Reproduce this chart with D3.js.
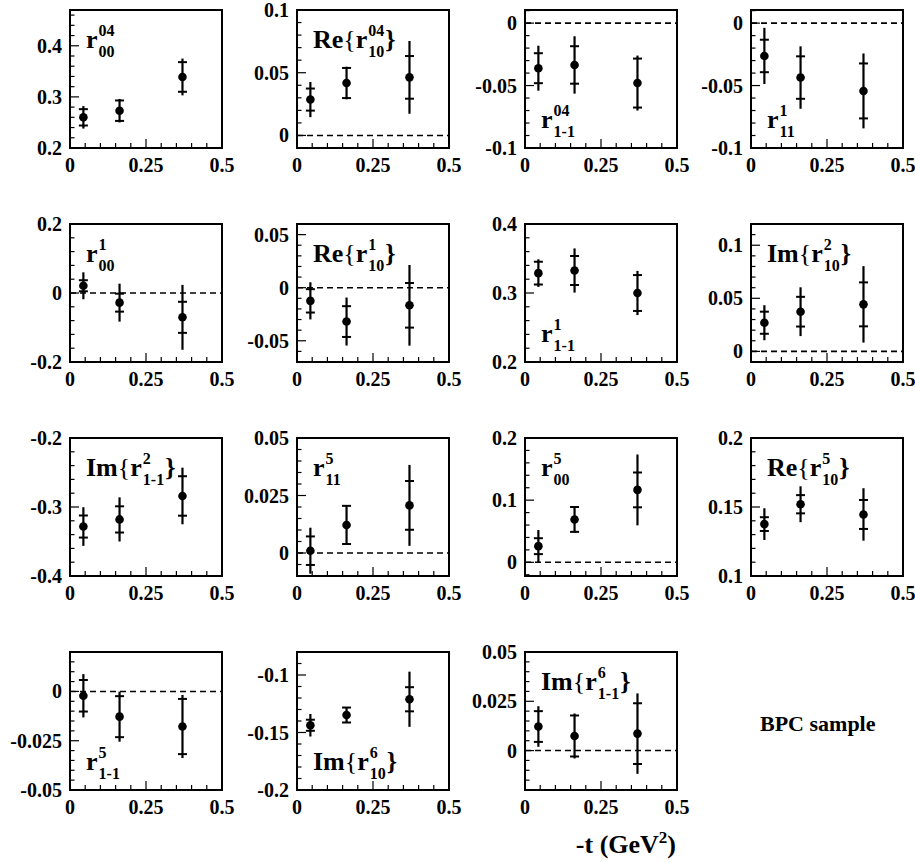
<!DOCTYPE html>
<html><head><meta charset="utf-8">
<script src="https://cdn.jsdelivr.net/npm/d3@7"></script>
<style>body{margin:0;background:#fff}svg text{font-family:"Liberation Serif","Times New Roman",serif;font-weight:bold}</style>
</head><body>
<script>
// -t values (GeV^2) of the three bins
const tValues = [0.044, 0.163, 0.37];
const xTicks = [0, 0.25, 0.5];
const xTickLabels = ["0", "0.25", "0.5"];

// values, statistical errors, total errors per matrix element
const r04_00 = [0.260, 0.273, 0.339], r04_00_stat = [0.016, 0.020, 0.029], r04_00_tot = [0.022, 0.023, 0.036];
const re_r04_10 = [0.0286, 0.0418, 0.0463], re_r04_10_stat = [0.0088, 0.012, 0.017], re_r04_10_tot = [0.014, 0.013, 0.029];
const r04_1m1 = [-0.0361, -0.0335, -0.048], r04_1m1_stat = [0.012, 0.015, 0.0196], r04_1m1_tot = [0.018, 0.023, 0.022];
const r1_11 = [-0.0263, -0.0436, -0.0543], r1_11_stat = [0.013, 0.017, 0.022], r1_11_tot = [0.0225, 0.025, 0.030];
const r1_00 = [0.021, -0.028, -0.0705], r1_00_stat = [0.016, 0.026, 0.045], r1_00_tot = [0.039, 0.055, 0.094];
const re_r1_10 = [-0.0124, -0.0319, -0.0166], re_r1_10_stat = [0.011, 0.0145, 0.021], re_r1_10_tot = [0.0175, 0.0226, 0.038];
const r1_1m1 = [0.3288, 0.3326, 0.300], r1_1m1_stat = [0.0165, 0.021, 0.026], r1_1m1_tot = [0.020, 0.032, 0.032];
const im_r2_10 = [0.027, 0.0374, 0.0443], im_r2_10_stat = [0.0104, 0.014, 0.0207], im_r2_10_tot = [0.0165, 0.023, 0.036];
const im_r2_1m1 = [-0.3283, -0.318, -0.284], im_r2_1m1_stat = [0.016, 0.019, 0.0286], im_r2_1m1_tot = [0.028, 0.032, 0.041];
const r5_11 = [0.001, 0.0122, 0.0207], r5_11_stat = [0.0062, 0.0083, 0.0106], r5_11_tot = [0.010, 0.0086, 0.0176];
const r5_00 = [0.026, 0.069, 0.1165], r5_00_stat = [0.0128, 0.020, 0.028], r5_00_tot = [0.026, 0.021, 0.057];
const re_r5_10 = [0.1376, 0.152, 0.1446], re_r5_10_stat = [0.005, 0.0066, 0.0105], re_r5_10_tot = [0.0115, 0.013, 0.019];
const r5_1m1 = [-0.0022, -0.0128, -0.0178], r5_1m1_stat = [0.008, 0.0104, 0.014], r5_1m1_tot = [0.011, 0.0127, 0.016];
const im_r6_10 = [-0.1437, -0.1348, -0.1211], im_r6_10_stat = [0.0048, 0.0065, 0.0105], im_r6_10_tot = [0.0098, 0.007, 0.024];
const im_r6_1m1 = [0.0122, 0.0074, 0.0086], im_r6_1m1_stat = [0.0078, 0.0104, 0.0154], im_r6_1m1_tot = [0.0103, 0.0114, 0.0204];

const panels = [
 {v:r04_00, s:r04_00_stat, e:r04_00_tot, dom:[0.2,0.47], ticks:[0.2,0.3,0.4], pre:"", sup:"04", sub:"00", lab:"top"},
 {v:re_r04_10, s:re_r04_10_stat, e:re_r04_10_tot, dom:[-0.01,0.1], ticks:[0,0.05,0.1], pre:"Re", sup:"04", sub:"10", lab:"top"},
 {v:r04_1m1, s:r04_1m1_stat, e:r04_1m1_tot, dom:[-0.1,0.0105], ticks:[-0.1,-0.05,0], pre:"", sup:"04", sub:"1-1", lab:"bottom"},
 {v:r1_11, s:r1_11_stat, e:r1_11_tot, dom:[-0.1,0.0105], ticks:[-0.1,-0.05,0], pre:"", sup:"1", sub:"11", lab:"bottom"},
 {v:r1_00, s:r1_00_stat, e:r1_00_tot, dom:[-0.2,0.2], ticks:[-0.2,0,0.2], pre:"", sup:"1", sub:"00", lab:"top"},
 {v:re_r1_10, s:re_r1_10_stat, e:re_r1_10_tot, dom:[-0.07,0.06], ticks:[-0.05,0,0.05], pre:"Re", sup:"1", sub:"10", lab:"top"},
 {v:r1_1m1, s:r1_1m1_stat, e:r1_1m1_tot, dom:[0.2,0.4], ticks:[0.2,0.3,0.4], pre:"", sup:"1", sub:"1-1", lab:"bottom"},
 {v:im_r2_10, s:im_r2_10_stat, e:im_r2_10_tot, dom:[-0.01,0.12], ticks:[0,0.05,0.1], pre:"Im", sup:"2", sub:"10", lab:"top"},
 {v:im_r2_1m1, s:im_r2_1m1_stat, e:im_r2_1m1_tot, dom:[-0.4,-0.2], ticks:[-0.4,-0.3,-0.2], pre:"Im", sup:"2", sub:"1-1", lab:"top"},
 {v:r5_11, s:r5_11_stat, e:r5_11_tot, dom:[-0.01,0.05], ticks:[0,0.025,0.05], pre:"", sup:"5", sub:"11", lab:"top"},
 {v:r5_00, s:r5_00_stat, e:r5_00_tot, dom:[-0.022,0.2], ticks:[0,0.1,0.2], pre:"", sup:"5", sub:"00", lab:"top"},
 {v:re_r5_10, s:re_r5_10_stat, e:re_r5_10_tot, dom:[0.1,0.2], ticks:[0.1,0.15,0.2], pre:"Re", sup:"5", sub:"10", lab:"top"},
 {v:r5_1m1, s:r5_1m1_stat, e:r5_1m1_tot, dom:[-0.05,0.02], ticks:[-0.05,-0.025,0], pre:"", sup:"5", sub:"1-1", lab:"bottom"},
 {v:im_r6_10, s:im_r6_10_stat, e:im_r6_10_tot, dom:[-0.2,-0.08], ticks:[-0.2,-0.15,-0.1], pre:"Im", sup:"6", sub:"10", lab:"bottom"},
 {v:im_r6_1m1, s:im_r6_1m1_stat, e:im_r6_1m1_tot, dom:[-0.02,0.05], ticks:[0,0.025,0.05], pre:"Im", sup:"6", sub:"1-1", lab:"top"}
];

const W = 915, H = 863;
const colX = [70, 297, 525, 751], rowY = [10, 224, 438, 652];
const pw = 152, ph = 138;
const svg = d3.select("body").append("svg").attr("width", W).attr("height", H);

function fmtTick(d){ return d === 0 ? "0" : String(+d.toFixed(4)); }

panels.forEach((p, i) => {
  const gx = colX[i % 4], gy = rowY[Math.floor(i / 4)];
  const g = svg.append("g").attr("transform", `translate(${gx},${gy})`);
  const x = d3.scaleLinear().domain([0, 0.5]).range([0, pw]);
  const y = d3.scaleLinear().domain(p.dom).range([ph, 0]);

  if (p.dom[0] < 0 && p.dom[1] > 0) {
    g.append("line").attr("x1", 0).attr("x2", pw).attr("y1", y(0)).attr("y2", y(0))
      .attr("stroke", "#000").attr("stroke-width", 1.6).attr("stroke-dasharray", "6,4");
  }
  d3.range(0, 11).forEach(k => {
    const t = k * 0.05;
    g.append("line").attr("x1", x(t)).attr("x2", x(t)).attr("y1", ph).attr("y2", ph - (k % 5 === 0 ? 9 : 5))
      .attr("stroke", "#000").attr("stroke-width", 1.2);
  });
  xTicks.forEach((t, k) => {
    g.append("text").attr("x", x(t)).attr("y", ph + 24).attr("text-anchor", "middle")
      .attr("font-size", 20).text(xTickLabels[k]);
  });
  const step = p.ticks[1] - p.ticks[0];
  const minor = step / 5;
  const n0 = Math.ceil((p.dom[0] - 1e-9) / minor), n1 = Math.floor((p.dom[1] + 1e-9) / minor);
  for (let k = n0; k <= n1; k++) {
    const t = k * minor;
    const isMajor = p.ticks.some(m => Math.abs(m - t) < minor * 0.1);
    g.append("line").attr("x1", 0).attr("x2", isMajor ? 9 : 4.5).attr("y1", y(t)).attr("y2", y(t))
      .attr("stroke", "#000").attr("stroke-width", 1.2);
  }
  p.ticks.forEach(t => {
    g.append("text").attr("x", -8).attr("y", Math.max(y(t) + 7, 6)).attr("text-anchor", "end")
      .attr("font-size", 20).text(fmtTick(t));
  });

  const pts = tValues.map((t, k) => ({t, v: p.v[k], s: p.s[k], e: p.e[k]}));
  g.selectAll(".eb").data(pts).enter().append("line")
    .attr("x1", d => x(d.t)).attr("x2", d => x(d.t))
    .attr("y1", d => Math.min(ph, y(d.v - d.e))).attr("y2", d => Math.max(0, y(d.v + d.e)))
    .attr("stroke", "#000").attr("stroke-width", 2.2);
  pts.forEach(d => {
    [d.v - d.s, d.v + d.s].forEach(val => {
      g.append("line").attr("x1", x(d.t) - 4.5).attr("x2", x(d.t) + 4.5).attr("y1", y(val)).attr("y2", y(val))
        .attr("stroke", "#000").attr("stroke-width", 2);
    });
  });
  g.selectAll(".pt").data(pts).enter().append("circle")
    .attr("cx", d => x(d.t)).attr("cy", d => y(d.v)).attr("r", 4.3).attr("fill", "#000");

  g.append("rect").attr("x", 0).attr("y", 0).attr("width", pw).attr("height", ph)
    .attr("fill", "none").attr("stroke", "#000").attr("stroke-width", 2);

  const ly = p.lab === "top" ? 38 : ph - 20;
  const lab = g.append("text").attr("x", 16).attr("y", ly).attr("font-size", 26);
  if (p.pre) {
    lab.append("tspan").text(p.pre);
    lab.append("tspan").attr("font-weight", "normal").text("{");
  }
  lab.append("tspan").text("r");
  const lx = 16 + lab.node().getComputedTextLength() + 1;
  const supT = g.append("text").attr("x", lx).attr("y", ly - 12).attr("font-size", 16).text(p.sup);
  const subT = g.append("text").attr("x", lx).attr("y", ly + 9).attr("font-size", 16).text(p.sub);
  if (p.pre) {
    const w = Math.max(supT.node().getComputedTextLength(), subT.node().getComputedTextLength());
    g.append("text").attr("x", lx + w + 1).attr("y", ly).attr("font-size", 26)
      .attr("font-weight", "normal").text("}");
  }
});

svg.append("text").attr("x", 760).attr("y", 731).attr("font-size", 22).text("BPC sample");
const xl = svg.append("text").attr("x", 676).attr("y", 853).attr("text-anchor", "end").attr("font-size", 26);
xl.append("tspan").text("-t (GeV");
xl.append("tspan").attr("dy", -10).attr("font-size", 17).text("2");
xl.append("tspan").attr("dy", 10).text(")");
</script>
</body></html>
